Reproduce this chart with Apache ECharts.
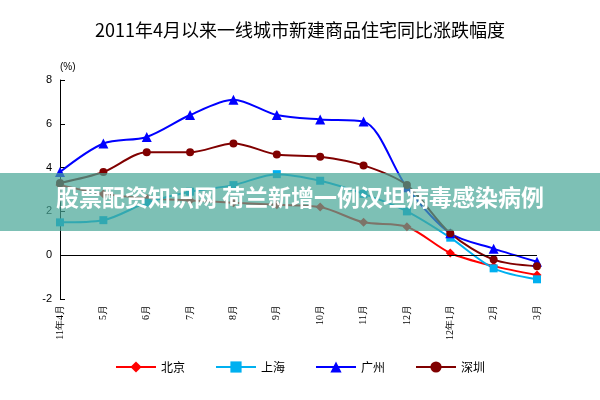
<!DOCTYPE html>
<html><head><meta charset="utf-8">
<script src="https://cdn.jsdelivr.net/npm/echarts@6/dist/echarts.min.js"></script>
<style>html,body{margin:0;padding:0;background:#fff}#c{width:600px;height:400px}</style>
</head><body><div id="c"></div>
<script>
var months = ['11年4月','5月','6月','7月','8月','9月','10月','11月','12月','12年1月','2月','3月'];
var beijing = [3.2, 2.8, 2.6, 2.5, 2.4, 2.3, 2.2, 1.5, 1.3, 0.1, -0.5, -0.9];
var shanghai = [1.5, 1.6, 2.4, 2.9, 3.2, 3.7, 3.4, 2.8, 2.0, 0.8, -0.6, -1.1];
var guangzhou = [3.8, 5.1, 5.4, 6.4, 7.1, 6.4, 6.2, 6.1, 3.1, 1.0, 0.3, -0.3];
var shenzhen = [3.3, 3.8, 4.7, 4.7, 5.1, 4.6, 4.5, 4.1, 3.2, 1.0, -0.2, -0.5];

var chart = echarts.init(document.getElementById('c'));
function line(name, data, color, symbol, size) {
    return { name: name, type: 'line', data: data, symbol: symbol, symbolSize: size,
        lineStyle: { color: color, width: 2 }, itemStyle: { color: color }, smooth: 0.3 };
}
var bj = line('北京', beijing, '#ff0000', 'diamond', 9);
bj.markLine = { silent: true, symbol: 'none', label: { show: false },
    lineStyle: { color: '#000', type: 'solid', width: 1 }, data: [{ yAxis: 0 }] };
chart.setOption({
    animation: false,
    title: { text: '2011年4月以来一线城市新建商品住宅同比涨跌幅度', left: 'center', top: 16,
        textStyle: { fontSize: 18, fontWeight: 'normal', color: '#000', fontFamily: 'Noto Sans CJK SC' } },
    legend: { bottom: 22, itemGap: 30, itemWidth: 40, textStyle: { fontSize: 12, color: '#000', fontFamily: 'Noto Sans CJK SC' },
        data: ['北京', '上海', '广州', '深圳'] },
    grid: { left: 60, right: 63, top: 80, bottom: 101 },
    xAxis: { type: 'category', data: months, boundaryGap: false,
        axisLine: { show: false, onZero: false },
        axisTick: { show: false },
        axisLabel: { rotate: 90, color: '#000', fontSize: 10, fontFamily: 'Liberation Serif', interval: 0, margin: 6 } },
    yAxis: { type: 'value', min: -2, max: 8, interval: 2, name: '(%)', nameGap: 8,
        nameTextStyle: { color: '#000', fontSize: 10, align: 'left' },
        axisLine: { show: true, lineStyle: { color: '#000' } }, axisTick: { show: true, inside: true },
        splitLine: { show: false }, axisLabel: { color: '#000', fontSize: 11, fontFamily: 'Liberation Sans' } },
    series: [
        bj,
        line('上海', shanghai, '#00b0f0', 'rect', 8),
        line('广州', guangzhou, '#0000ff', 'triangle', 10),
        line('深圳', shenzhen, '#800000', 'circle', 8)
    ],
    graphic: [
        { type: 'rect', shape: { x: 0, y: 173, width: 600, height: 58 }, style: { fill: 'rgba(70,165,150,0.7)' }, z: 100 },
        { type: 'text', left: 'center', top: 186, z: 101,
            style: { text: '股票配资知识网 荷兰新增一例汉坦病毒感染病例', fill: '#fff', fontSize: 23, fontWeight: 'bold', fontFamily: 'Noto Sans CJK SC' } }
    ]
});
</script></body></html>
